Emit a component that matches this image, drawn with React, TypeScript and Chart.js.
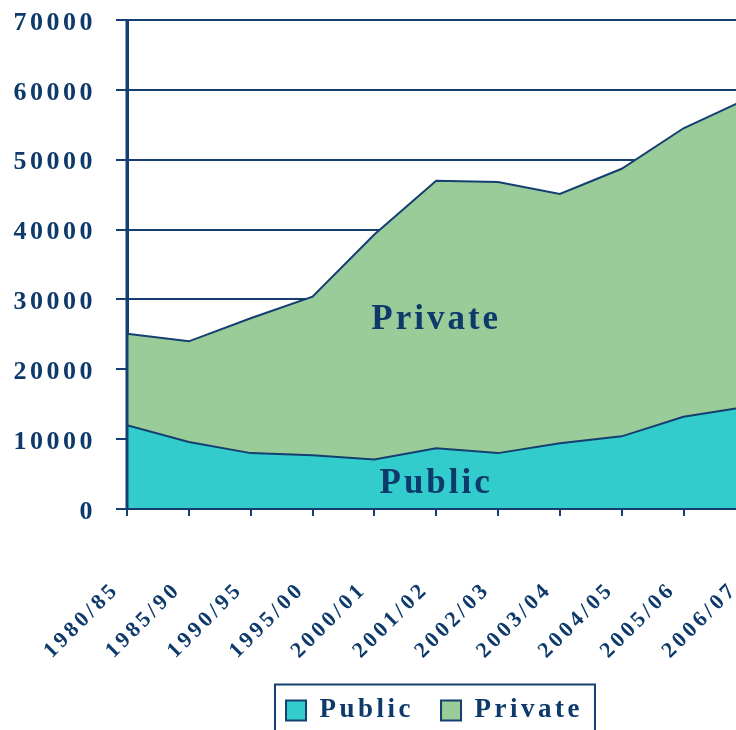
import { useEffect, useRef } from 'react';
import { Chart, registerables } from 'chart.js';

Chart.register(...registerables);

// ---- data ----
const periods = ['1980/85', '1985/90', '1990/95', '1995/00', '2000/01', '2001/02', '2002/03', '2003/04', '2004/05', '2005/06', '2006/07'];
const publicValues = [12000, 9600, 8000, 7700, 7100, 8700, 8000, 9400, 10400, 13200, 14600];
const privateValues = [13100, 14400, 19300, 22700, 32200, 38300, 38800, 35700, 38300, 41300, 44000];
const yMin = 0;
const yMax = 70000;
const yStep = 10000;
const xMaxIndex = 12;
// in-chart labels: [text, category index, value at baseline]
const areaLabels: [string, number, number][] = [
  ['Private', 5, 25800],
  ['Public', 5, 2300],
];

const NAVY = '#0d3a6b';
const LINE = '#143f70';
const TEAL = '#33cccc';
const GREEN = '#99cc99';
const FONT = "'Liberation Serif', 'Times New Roman', serif";
const SPACING = '3.5px';

export default function App() {
  const ref = useRef<HTMLCanvasElement>(null);

  useEffect(() => {
    const canvas = ref.current!;
    const setSpacing = (chart: any) => {
      (chart.ctx as any).letterSpacing = SPACING;
    };

    const deco = {
      id: 'deco',
      beforeInit: setSpacing,
      beforeUpdate: setSpacing,
      beforeLayout: setSpacing,
      beforeDraw: setSpacing,
      afterDatasetsDraw(chart: any) {
        const { ctx, chartArea, scales } = chart;
        ctx.save();
        // axis lines on top of the fills
        ctx.strokeStyle = LINE;
        ctx.lineWidth = 3;
        ctx.beginPath();
        ctx.moveTo(chartArea.left, chartArea.top);
        ctx.lineTo(chartArea.left, chartArea.bottom + 1);
        ctx.stroke();
        ctx.lineWidth = 2;
        ctx.beginPath();
        ctx.moveTo(chartArea.left, chartArea.bottom);
        ctx.lineTo(chartArea.right, chartArea.bottom);
        ctx.stroke();
        // area labels
        ctx.fillStyle = NAVY;
        ctx.font = `bold 35px ${FONT}`;
        (ctx as any).letterSpacing = '3px';
        ctx.textAlign = 'center';
        ctx.textBaseline = 'alphabetic';
        for (const [text, xi, yv] of areaLabels) {
          ctx.fillText(text, scales.x.getPixelForValue(xi), scales.y.getPixelForValue(yv));
        }
        ctx.restore();
      },
      afterDraw(chart: any) {
        const lg = chart.legend;
        if (!lg || !lg.legendHitBoxes || !lg.legendHitBoxes.length) return;
        const hb = lg.legendHitBoxes;
        const first = hb[0];
        const last = hb[hb.length - 1];
        const { ctx } = chart;
        ctx.save();
        ctx.strokeStyle = LINE;
        ctx.lineWidth = 2;
        const left = first.left - 11;
        const top = first.top - 12.5;
        const right = last.left + last.width + 12;
        ctx.strokeRect(left, top, right - left, 70);
        ctx.restore();
      },
    };

    const chart = new Chart(canvas, {
      type: 'line',
      data: {
        datasets: [
          {
            label: 'Public',
            data: publicValues.map((v, i) => ({ x: i, y: v })),
            backgroundColor: TEAL,
            borderColor: LINE,
            borderWidth: 2,
            pointRadius: 0,
            tension: 0,
            fill: 'origin',
          },
          {
            label: 'Private',
            data: privateValues.map((v, i) => ({ x: i, y: v })),
            backgroundColor: GREEN,
            borderColor: LINE,
            borderWidth: 2,
            pointRadius: 0,
            tension: 0,
            fill: '-1',
          },
        ],
      },
      options: {
        responsive: false,
        animation: false,
        devicePixelRatio: 1,
        layout: { padding: { top: 20, left: 0, right: 0, bottom: 0 } },
        plugins: {
          tooltip: { enabled: false },
          legend: {
            position: 'bottom',
            labels: {
              boxWidth: 20,
              boxHeight: 20,
              padding: 27,
              color: NAVY,
              font: { family: FONT, size: 27, weight: 'bold' },
            },
          },
        },
        scales: {
          x: {
            type: 'linear',
            min: 0,
            max: xMaxIndex,
            afterFit: (s: any) => {
              s.height = 161;
              s.paddingLeft = 0;
              s.paddingRight = 0;
              s.paddingTop = 0;
              s.paddingBottom = 0;
            },
            ticks: {
              stepSize: 1,
              autoSkip: false,
              maxRotation: 45,
              minRotation: 45,
              padding: 61,
              labelOffset: -11,
              color: NAVY,
              font: { family: FONT, size: 22, weight: 'bold' },
              callback: (v: any) => periods[v as number] ?? '',
            },
            grid: { drawOnChartArea: false, drawTicks: true, tickLength: 7, color: LINE, lineWidth: 2 },
            border: { display: true, color: LINE, width: 2 },
          },
          y: {
            stacked: true,
            min: yMin,
            max: yMax,
            afterFit: (s: any) => {
              s.width = 127;
              s.paddingLeft = 0;
              s.paddingRight = 0;
              s.paddingTop = 0;
              s.paddingBottom = 0;
            },
            ticks: {
              stepSize: yStep,
              padding: 20,
              labelOffset: 3,
              color: NAVY,
              font: { family: FONT, size: 26, weight: 'bold' },
              callback: (v: any) => String(v),
            },
            grid: { color: LINE, lineWidth: 2, tickLength: 11, drawTicks: true },
            border: { display: true, color: LINE, width: 3 },
          },
        },
      },
      plugins: [deco],
    } as any);

    return () => chart.destroy();
  }, []);

  return (
    <div style={{ position: 'fixed', left: 0, top: 0, width: 736, height: 730, overflow: 'hidden', background: '#fff' }}>
      <canvas ref={ref} width={869} height={734} style={{ display: 'block', width: 869, height: 734 }} />
    </div>
  );
}
